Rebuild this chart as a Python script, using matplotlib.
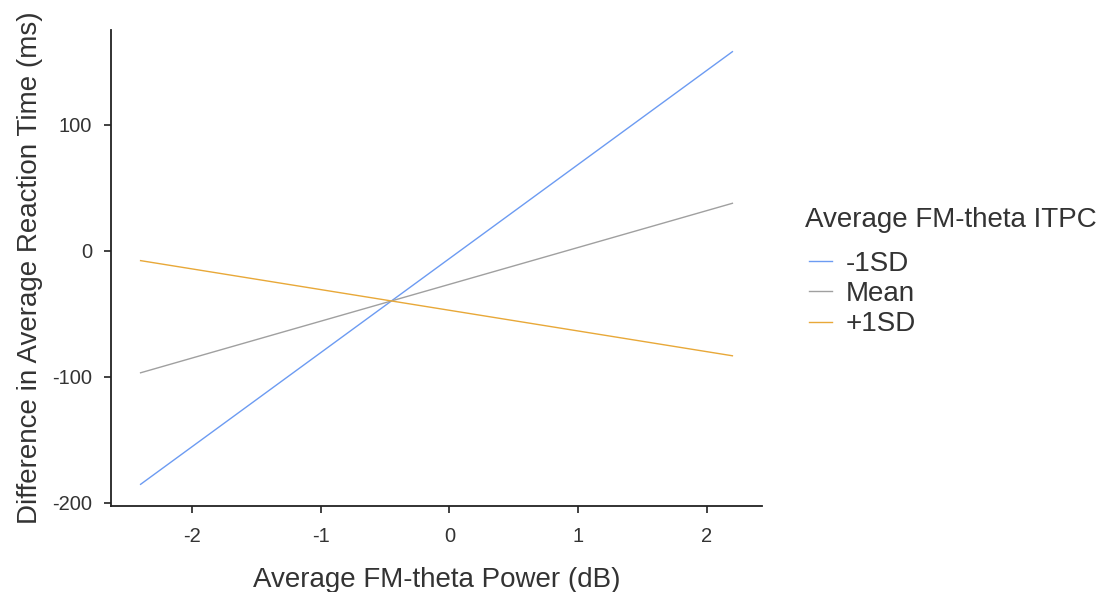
import matplotlib
matplotlib.use("Agg")
import matplotlib.pyplot as plt
from matplotlib.legend_handler import HandlerLine2D
import numpy as np

plt.rcParams['font.family'] = ['Liberation Sans', 'DejaVu Sans']

x_ends = [-2.4, 2.2]
series_names = ["-1SD", "Mean", "+1SD"]
minus1sd = [-185.5, 157.8]
mean_vals = [-97.0, 37.5]
plus1sd = [-8.0, -83.5]
colors = ["#6C9BF2", "#A0A0A0", "#E8A838"]
xticks = [-2, -1, 0, 1, 2]
yticks = [-200, -100, 0, 100]
legend_title = "Average FM-theta ITPC"

fig = plt.figure(figsize=(11.02, 5.92), dpi=100)
ax = fig.add_axes([111/1102, 86/592, (762-111)/1102, (506-30)/592])

for name, vals, c in zip(series_names, [minus1sd, mean_vals, plus1sd], colors):
    ax.plot(x_ends, vals, color=c, lw=1.0, label=name)

ax.set_xlim(-2.63, 2.43)
ax.set_ylim(-202.7, 175.0)
ax.set_xticks(xticks)
ax.set_yticks(yticks)
ax.set_xticklabels([str(t) for t in xticks])
ax.set_yticklabels([str(t) for t in yticks])
for s in ["top", "right"]:
    ax.spines[s].set_visible(False)
for s in ["left", "bottom"]:
    ax.spines[s].set_linewidth(1.3)
    ax.spines[s].set_color("#222222")
ax.tick_params(axis="both", length=5, width=1.3, color="#333333", labelsize=14.5, labelcolor="#333333")
ax.tick_params(axis="x", pad=10)
ax.tick_params(axis="y", pad=8.5)

ax.set_xlabel("Average FM-theta Power (dB)", fontsize=20, color="#333333", labelpad=15)
ax.set_ylabel("Difference in Average Reaction Time (ms)", fontsize=20, color="#333333", labelpad=7)


class OffsetLine(HandlerLine2D):
    def get_xdata(self, legend, xdescent, ydescent, width, height, fontsize):
        xd = np.array([-xdescent + 0.27 * width, -xdescent + width])
        return xd, xd


fig.text(805/1102, 1 - 220/592, legend_title, fontsize=20, color="#333333", ha="left", va="center")
handles, labels = ax.get_legend_handles_labels()
leg = ax.legend(handles, labels, loc="upper left", bbox_to_anchor=(800/1102, (592-251)/592),
                bbox_transform=fig.transFigure, frameon=False, fontsize=20,
                handlelength=1.15, handletextpad=0.5, labelspacing=0.15, borderaxespad=0, borderpad=0,
                handler_map={h: OffsetLine() for h in handles})
for t in leg.get_texts():
    t.set_color("#333333")

fig.savefig("out.png", dpi=100, facecolor="white")
